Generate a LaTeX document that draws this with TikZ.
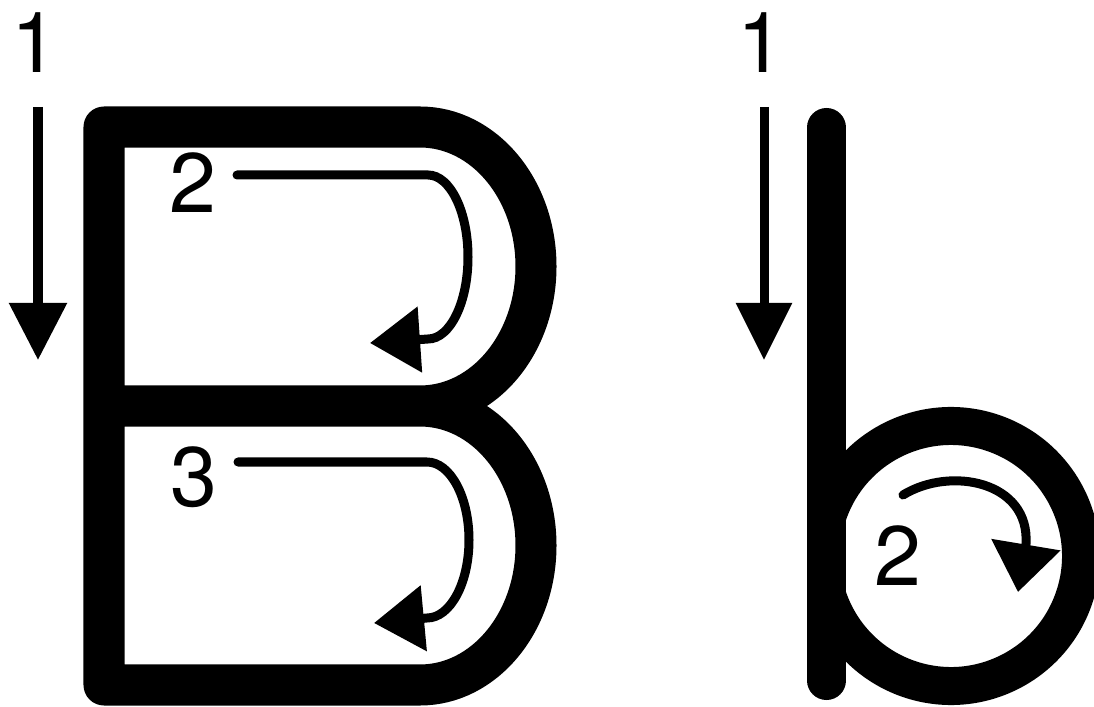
\documentclass[tikz,border=0pt]{standalone}
\usepackage{fontspec}
\setmainfont{TeX Gyre Heros}
\usetikzlibrary{arrows.meta}

\begin{document}
\begin{tikzpicture}[x=0.025cm,y=0.025cm,
    letter/.style={line width=1.025cm,line join=round},
    guide/.style={line width=0.225cm,line cap=round},
    num/.style={inner sep=0pt,font=\fontsize{60}{72}\selectfont}]
  \useasboundingbox (0,0) rectangle (1094,706);
  \clip (0,0) rectangle (1094,706);
  % capital B
  \draw[letter] (104,300) -- (420,300) arc[start angle=90,end angle=-90,x radius=116,y radius=139.5]
    -- (104,21) -- (104,579) -- (420,579) arc[start angle=90,end angle=-90,x radius=116,y radius=139.5] -- (104,300);
  % small b
  \draw[letter,line width=0.95cm] (951,150) ++(161:130) arc[start angle=161,end angle=-161,radius=130];
  \draw[letter,line width=0.975cm,line cap=round] (826.5,578.5) -- (826.5,25.5);
  % numbers
  \node[num] (oneB) at (34.5,663) {1};
  \node[num] (twoB) at (193,523) {2};
  \node[num] (threeB) at (194,228.5) {3};
  \node[num] (oneb) at (760.5,663) {1};
  \node[num] (twob) at (898,150) {2};
  % stroke order arrows
  \draw[guide,line cap=butt,-{Triangle[length=1.425cm,width=1.4cm]}] (38,599) -- (38,346);
  \draw[guide,line cap=butt,-{Triangle[length=1.425cm,width=1.35cm]}] (764,599) -- (764,346);
  \draw[guide,-{Triangle[length=1.25cm,width=1.6cm]}] (237,531) -- (428,531)
    arc[start angle=90,end angle=-90,x radius=40,y radius=82] -- (370,363);
  \draw[guide,-{Triangle[length=1.25cm,width=1.6cm]}] (238,244) -- (427,244)
    arc[start angle=90,end angle=-90,x radius=42,y radius=78] -- (374,83);
  \draw[guide,-{Triangle[length=1.2cm,width=1.7cm]}] (903,211) .. controls (950,240) and (1030,225) .. (1026,162) -- (1018,114);
\end{tikzpicture}
\end{document}
